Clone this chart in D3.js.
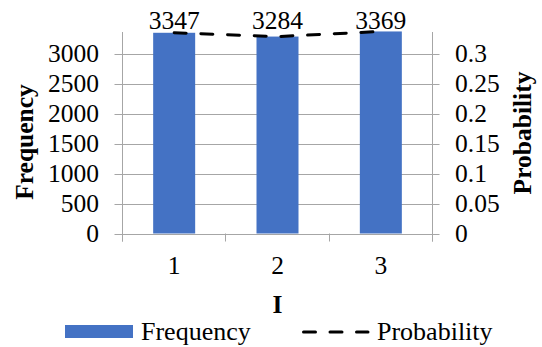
<!DOCTYPE html>
<html>
<head>
<meta charset="utf-8">
<script src="https://cdn.jsdelivr.net/npm/d3@7"></script>
<style>
  body { margin: 0; background: #fff; }
</style>
</head>
<body>
<script>
// Chart data
var categories = ["1", "2", "3"];
var frequency = [3347, 3284, 3369];
var probability = [0.3347, 0.3284, 0.3369];
var freqTicks = [0, 500, 1000, 1500, 2000, 2500, 3000];
var probTicks = [0, 0.05, 0.1, 0.15, 0.2, 0.25, 0.3];

var svgWidth = 542;
var svgHeight = 347;
var plot = { left: 122.5, right: 432.5, top: 32, bottom: 233.5 };
var fontSize = 25.5;
var gridColor = "#a6a6a6";

var svg = d3.select("body").append("svg")
  .attr("width", svgWidth)
  .attr("height", svgHeight)
  .attr("font-family", "'Liberation Serif', 'Times New Roman', 'DejaVu Serif', serif")
  .attr("fill", "#000");

// Scales
var xScale = d3.scaleBand().domain(categories).range([plot.left, plot.right]);
var yFreq = d3.scaleLinear().domain([0, 3360]).range([plot.bottom, plot.top]);
var yProb = d3.scaleLinear().domain([0, 0.336]).range([plot.bottom, plot.top]);

// Gridlines
svg.append("g").selectAll("line")
  .data(freqTicks)
  .enter().append("line")
  .attr("x1", plot.left - 8)
  .attr("x2", plot.right + 7)
  .attr("y1", function (d) { return Math.round(yFreq(d)) + 0.5; })
  .attr("y2", function (d) { return Math.round(yFreq(d)) + 0.5; })
  .attr("stroke", gridColor)
  .attr("stroke-width", 1);

// Axis lines
svg.append("line")
  .attr("x1", plot.left).attr("x2", plot.left)
  .attr("y1", plot.top).attr("y2", plot.bottom + 8)
  .attr("stroke", gridColor);
svg.append("line")
  .attr("x1", plot.right).attr("x2", plot.right)
  .attr("y1", plot.top).attr("y2", plot.bottom + 8)
  .attr("stroke", gridColor);

// X tick marks at band boundaries
var bounds = categories.map(function (c) { return xScale(c); }).concat([plot.right]);
svg.append("g").selectAll("line")
  .data(bounds)
  .enter().append("line")
  .attr("x1", function (d) { return Math.round(d - 0.5) + 0.5; })
  .attr("x2", function (d) { return Math.round(d - 0.5) + 0.5; })
  .attr("y1", plot.bottom)
  .attr("y2", plot.bottom + 8)
  .attr("stroke", gridColor);

// Bars
var barWidth = 42;
svg.append("g").selectAll("rect")
  .data(frequency)
  .enter().append("rect")
  .attr("x", function (d, i) { return xScale(categories[i]) + xScale.bandwidth() / 2 - barWidth / 2; })
  .attr("y", function (d) { return yFreq(d); })
  .attr("width", barWidth)
  .attr("height", function (d) { return yFreq(0) - yFreq(d); })
  .attr("fill", "#4472c4");

// Probability line
var drawLine = d3.line()
  .x(function (d, i) { return xScale(categories[i]) + xScale.bandwidth() / 2; })
  .y(function (d) { return yProb(d); });

svg.append("path")
  .attr("d", drawLine(probability))
  .attr("fill", "none")
  .attr("stroke", "#000")
  .attr("stroke-width", 3)
  .attr("stroke-linecap", "round")
  .attr("stroke-dasharray", "12,14.7");

// Data labels
svg.append("g").selectAll("text")
  .data(frequency)
  .enter().append("text")
  .attr("x", function (d, i) { return xScale(categories[i]) + xScale.bandwidth() / 2; })
  .attr("y", 29)
  .attr("text-anchor", "middle")
  .attr("font-size", fontSize)
  .text(function (d) { return d; });

// Left tick labels
svg.append("g").selectAll("text")
  .data(freqTicks)
  .enter().append("text")
  .attr("x", 99)
  .attr("y", function (d) { return yFreq(d) + 8.5; })
  .attr("text-anchor", "end")
  .attr("font-size", fontSize)
  .text(function (d) { return d; });

// Right tick labels
svg.append("g").selectAll("text")
  .data(probTicks)
  .enter().append("text")
  .attr("x", 455)
  .attr("y", function (d) { return yProb(d) + 8.5; })
  .attr("font-size", fontSize)
  .text(function (d) { return d; });

// X tick labels
svg.append("g").selectAll("text")
  .data(categories)
  .enter().append("text")
  .attr("x", function (d) { return xScale(d) + xScale.bandwidth() / 2; })
  .attr("y", 274)
  .attr("text-anchor", "middle")
  .attr("font-size", fontSize)
  .text(function (d) { return d; });

// Axis titles
svg.append("text")
  .attr("transform", "translate(33,142) rotate(-90)")
  .attr("text-anchor", "middle")
  .attr("font-size", fontSize)
  .attr("font-weight", "bold")
  .text("Frequency");

svg.append("text")
  .attr("transform", "translate(531,133) rotate(-90)")
  .attr("text-anchor", "middle")
  .attr("font-size", fontSize)
  .attr("font-weight", "bold")
  .text("Probability");

svg.append("text")
  .attr("x", (plot.left + plot.right) / 2)
  .attr("y", 312.5)
  .attr("text-anchor", "middle")
  .attr("font-size", fontSize)
  .attr("font-weight", "bold")
  .text("I");

// Legend
var legend = svg.append("g");
legend.append("rect")
  .attr("x", 65).attr("y", 325)
  .attr("width", 68).attr("height", 13)
  .attr("fill", "#4472c4");
legend.append("text")
  .attr("x", 141).attr("y", 340)
  .attr("font-size", 26)
  .text("Frequency");
legend.append("line")
  .attr("x1", 303.5).attr("x2", 368)
  .attr("y1", 332).attr("y2", 332)
  .attr("stroke", "#000")
  .attr("stroke-width", 3)
  .attr("stroke-linecap", "round")
  .attr("stroke-dasharray", "12,14.5");
legend.append("text")
  .attr("x", 377).attr("y", 340)
  .attr("font-size", 26)
  .text("Probability");
</script>
</body>
</html>
